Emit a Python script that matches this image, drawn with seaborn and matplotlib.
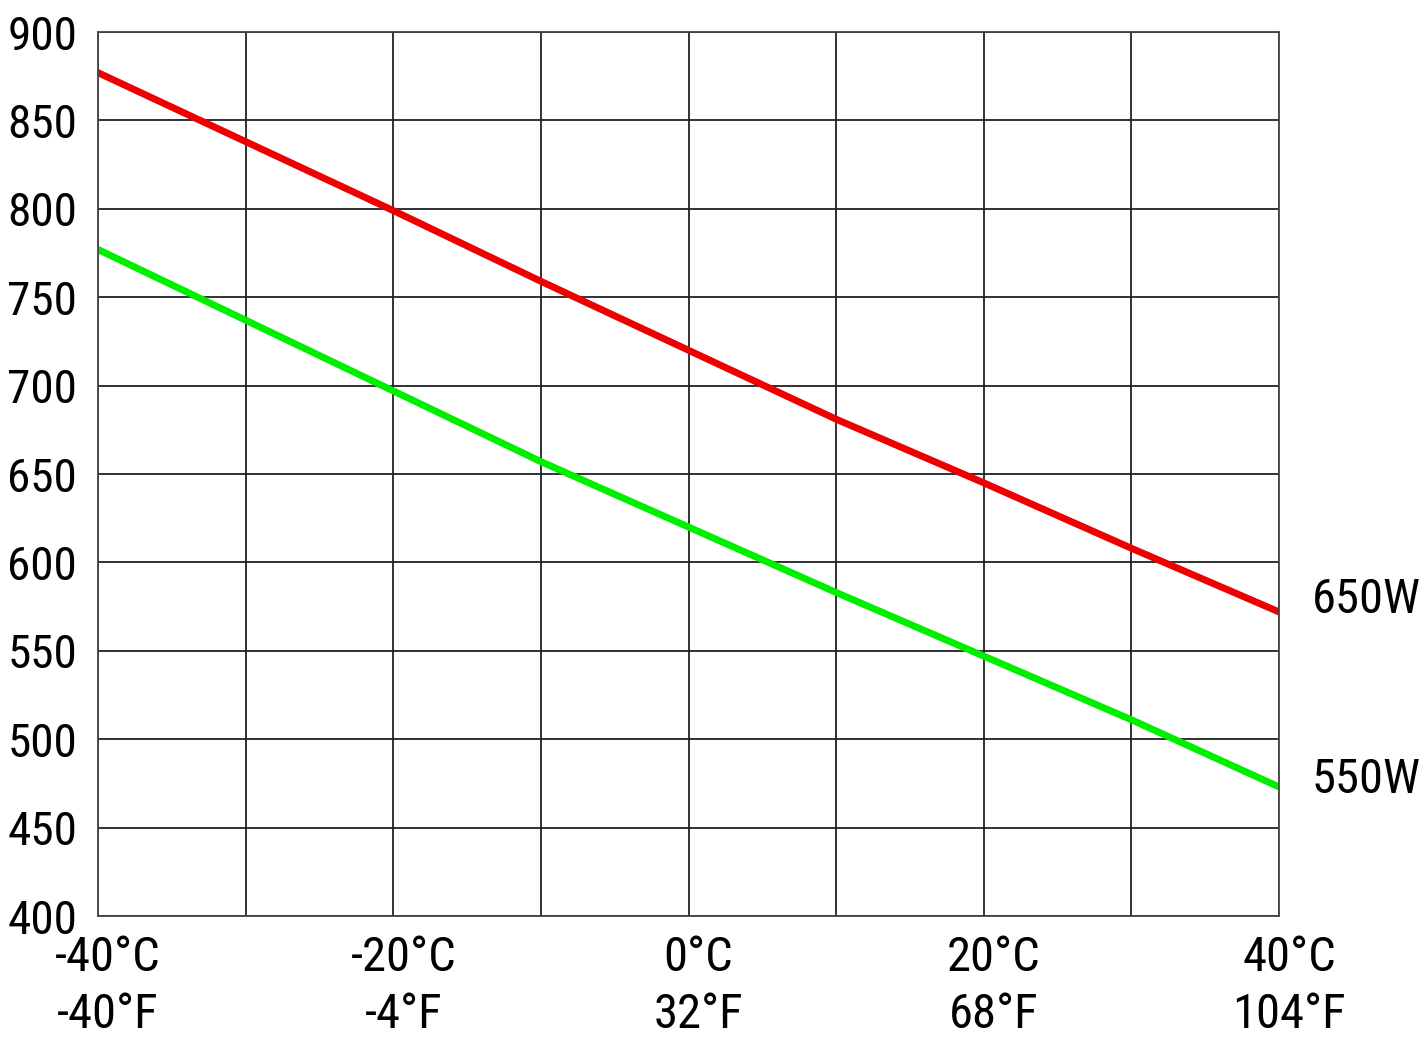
import seaborn as sns
import numpy as np
import pandas as pd
import matplotlib.pyplot as plt
import matplotlib.transforms as mtrans
from matplotlib import font_manager

temps_c = [-40, -30, -20, -10, 0, 10, 20, 30, 40]
watts_650 = [877, 838, 799, 759, 720, 681, 645, 608, 572]
watts_550 = [777, 737, 697, 657, 620, 583, 547, 511, 473]
series_names = ["650W", "550W"]
series_colors = ["#ee0000", "#00ee00"]
tick_c = [-40, -20, 0, 20, 40]
tick_labels = ["-40°C\n-40°F", "-20°C\n-4°F", "0°C\n32°F", "20°C\n68°F", "40°C\n104°F"]

sns.set_style("white")
# narrow face like the original, if there is one
names = {f.name for f in font_manager.fontManager.ttflist}
narrow = [n for n in ["Liberation Sans Narrow", "Roboto Condensed", "Open Sans Condensed"] if n in names]
plt.rcParams['font.family'] = narrow + ['DejaVu Sans']
plt.rcParams['font.stretch'] = 'condensed'
plt.rcParams['text.color'] = 'black'
plt.rcParams['xtick.color'] = 'black'
plt.rcParams['ytick.color'] = 'black'

df = pd.DataFrame({
    "temp": temps_c * 2,
    "watts": watts_650 + watts_550,
    "model": [series_names[0]] * len(temps_c) + [series_names[1]] * len(temps_c),
})

fig = plt.figure(figsize=(14.27, 10.55), dpi=100)
ax = fig.add_axes([98 / 1427, 1 - 916 / 1055, (1279 - 98) / 1427, (916 - 32) / 1055])
sns.lineplot(data=df, x="temp", y="watts", hue="model", palette=series_colors,
             linewidth=5, legend=False, ax=ax)

fs = 35
ax.set_xlim(-40, 40)
ax.set_ylim(400, 900)
ax.set_xticks(np.arange(-40, 41, 10), minor=True)
ax.set_xticks(tick_c)
ax.set_xticklabels(tick_labels, fontsize=fs, linespacing=1.3)
ax.set_yticks(np.arange(400, 901, 50))
ax.tick_params(axis='y', labelsize=34, pad=15, length=0)
ax.tick_params(axis='x', which='both', length=0, pad=14)
shift = mtrans.ScaledTranslation(0.1, 0, fig.dpi_scale_trans)
for lab in ax.get_xticklabels():
    lab.set_transform(lab.get_transform() + shift)
ax.grid(True, which='both', color='#222222', linewidth=1.3)
for s in ax.spines.values():
    s.set_color('#444444')
    s.set_linewidth(1.3)
ax.set_xlabel("")
ax.set_ylabel("")

ax.text(1.028, (579 - 400) / 500, series_names[0], transform=ax.transAxes,
        fontsize=fs, va='center', ha='left', clip_on=False)
ax.text(1.028, (477 - 400) / 500, series_names[1], transform=ax.transAxes,
        fontsize=fs, va='center', ha='left', clip_on=False)

fig.savefig("out.png", dpi=100)
